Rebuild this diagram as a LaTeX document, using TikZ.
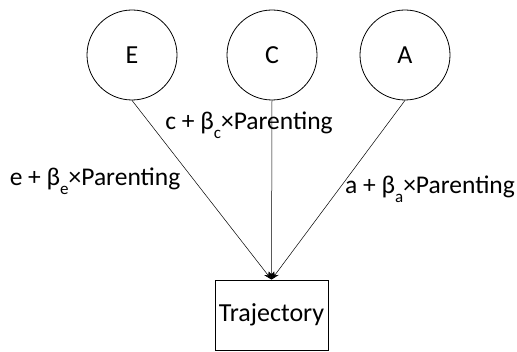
\documentclass[tikz,border=0pt]{standalone}
\usepackage{fontspec}
\setmainfont{Carlito}
\usetikzlibrary{arrows.meta}
% lowered subscript in the text font
\newcommand{\lowsub}[1]{\raisebox{-0.7ex}{\fontsize{17}{17}\selectfont #1}}
\tikzset{
  latent/.style={circle, draw, line width=0.8pt, minimum size=90pt, inner sep=0pt, font=\fontsize{26}{30}\selectfont},
  observed/.style={rectangle, draw, line width=0.8pt, minimum width=113pt, minimum height=70pt, inner sep=0pt, font=\fontsize{26}{30}\selectfont},
  path lbl/.style={font=\fontsize{25.5}{30}\selectfont, inner sep=0pt},
  link/.style={line width=0.5pt, -{Stealth[length=8pt,width=6pt]}}
}
\begin{document}
\begin{tikzpicture}[x=1pt,y=1pt]
\useasboundingbox (0,0) rectangle (517,352);
\node[latent] (E) at (132,297) {E};
\node[latent] (C) at (272,297) {C};
\node[latent] (A) at (405,297) {A};
\node[observed] (T) at (271.5,37) {Trajectory};
\draw[link] (E.south) -- (T.north);
\draw[link] (C.south) -- (T.north);
\draw[link] (A.south) -- (T.north);
\node[path lbl] (le) at (95,171) {e + β\lowsub{e}×Parenting};
\node[path lbl] (lc) at (249,227) {c + β\lowsub{c}×Parenting};
\node[path lbl] (la) at (430,163) {a + β\lowsub{a}×Parenting};
\end{tikzpicture}
\end{document}
